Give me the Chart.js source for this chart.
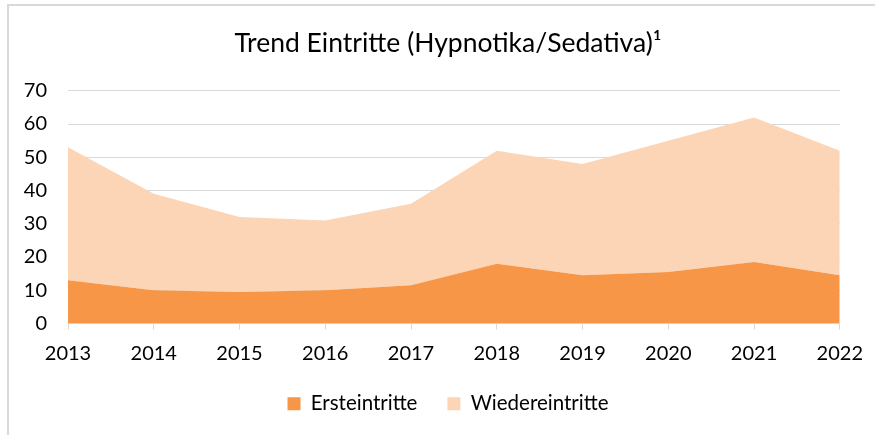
<!DOCTYPE html>
<html>
<head>
<meta charset="utf-8">
<script src="https://cdn.jsdelivr.net/npm/chart.js"></script>
<style>
    html, body { margin: 0; padding: 0; background: #fff; }
    #wrap { position: relative; width: 875px; height: 435px; overflow: hidden; }
    #frame { position: absolute; left: 7px; top: 4px; width: 900px; height: 460px;
             border-left: 2px solid #d9d9d9; border-top: 2px solid #d9d9d9; }
    canvas { position: absolute; left: 0; top: 0; }
</style>
</head>
<body>
<div id="wrap">
    <div id="frame"></div>
    <canvas id="trendChart" width="875" height="435"></canvas>
</div>
<script>
// Trend Eintritte (Hypnotika/Sedativa) - stacked area chart

const years = ['2013', '2014', '2015', '2016', '2017', '2018', '2019', '2020', '2021', '2022'];
const ersteintritte = [13, 10, 9.5, 10, 11.5, 18, 14.5, 15.5, 18.5, 14.5];
const wiedereintritte = [40, 29, 22.5, 21, 24.5, 34, 33.5, 39.5, 43.5, 37.5];
const yTicks = [0, 10, 20, 30, 40, 50, 60, 70];

// title and legend sit a bit right of the plot centre in the original
const shiftHeader = {
    id: 'shiftHeader',
    afterLayout(chart) {
        const dx = 28;
        [chart.titleBlock, chart.legend].forEach(box => {
            if (box) { box.left += dx; box.right += dx; }
        });
    }
};

document.addEventListener('DOMContentLoaded', function() {
    const ctx = document.getElementById('trendChart').getContext('2d');
    const font = 'Lato, "Open Sans", sans-serif';

    new Chart(ctx, {
        type: 'line',
        data: {
            labels: years,
            datasets: [{
                label: 'Ersteintritte',
                data: ersteintritte,
                backgroundColor: '#f79646',
                borderWidth: 0,
                pointRadius: 0,
                fill: 'origin'
            }, {
                label: 'Wiedereintritte',
                data: wiedereintritte,
                backgroundColor: '#fbd5b5',
                borderWidth: 0,
                pointRadius: 0,
                fill: '-1'
            }]
        },
        plugins: [shiftHeader],
        options: {
            responsive: false,
            animation: false,
            layout: {
                padding: { top: 28, right: 35, bottom: 11, left: 0 }
            },
            plugins: {
                title: {
                    display: true,
                    text: 'Trend Eintritte (Hypnotika/Sedativa)\u00b9',
                    color: '#000',
                    font: { family: font, size: 26.5, weight: 'normal' },
                    padding: { top: 0, bottom: 31 }
                },
                legend: {
                    position: 'bottom',
                    labels: {
                        color: '#000',
                        font: { family: font, size: 20.5 },
                        boxWidth: 13,
                        boxHeight: 13,
                        padding: 30
                    }
                },
                tooltip: { enabled: false }
            },
            scales: {
                x: {
                    offset: false,
                    afterFit: function(axis) {
                        axis.height -= 14;
                    },
                    grid: {
                        display: true,
                        drawOnChartArea: false,
                        drawTicks: true,
                        tickLength: 6,
                        color: '#d9d9d9'
                    },
                    border: { color: '#d9d9d9', width: 1 },
                    ticks: {
                        color: '#000',
                        font: { family: font, size: 20 },
                        maxRotation: 0,
                        padding: 12
                    }
                },
                y: {
                    stacked: true,
                    min: 0,
                    max: 70,
                    afterBuildTicks: function(axis) {
                        axis.ticks = yTicks.map(v => ({ value: v }));
                    },
                    afterFit: function(axis) {
                        axis.width = 68;
                    },
                    grid: { color: '#d9d9d9', lineWidth: 1, drawTicks: false },
                    border: { display: false },
                    ticks: {
                        color: '#000',
                        font: { family: font, size: 20 },
                        padding: 21
                    }
                }
            }
        }
    });
});
</script>
</body>
</html>
